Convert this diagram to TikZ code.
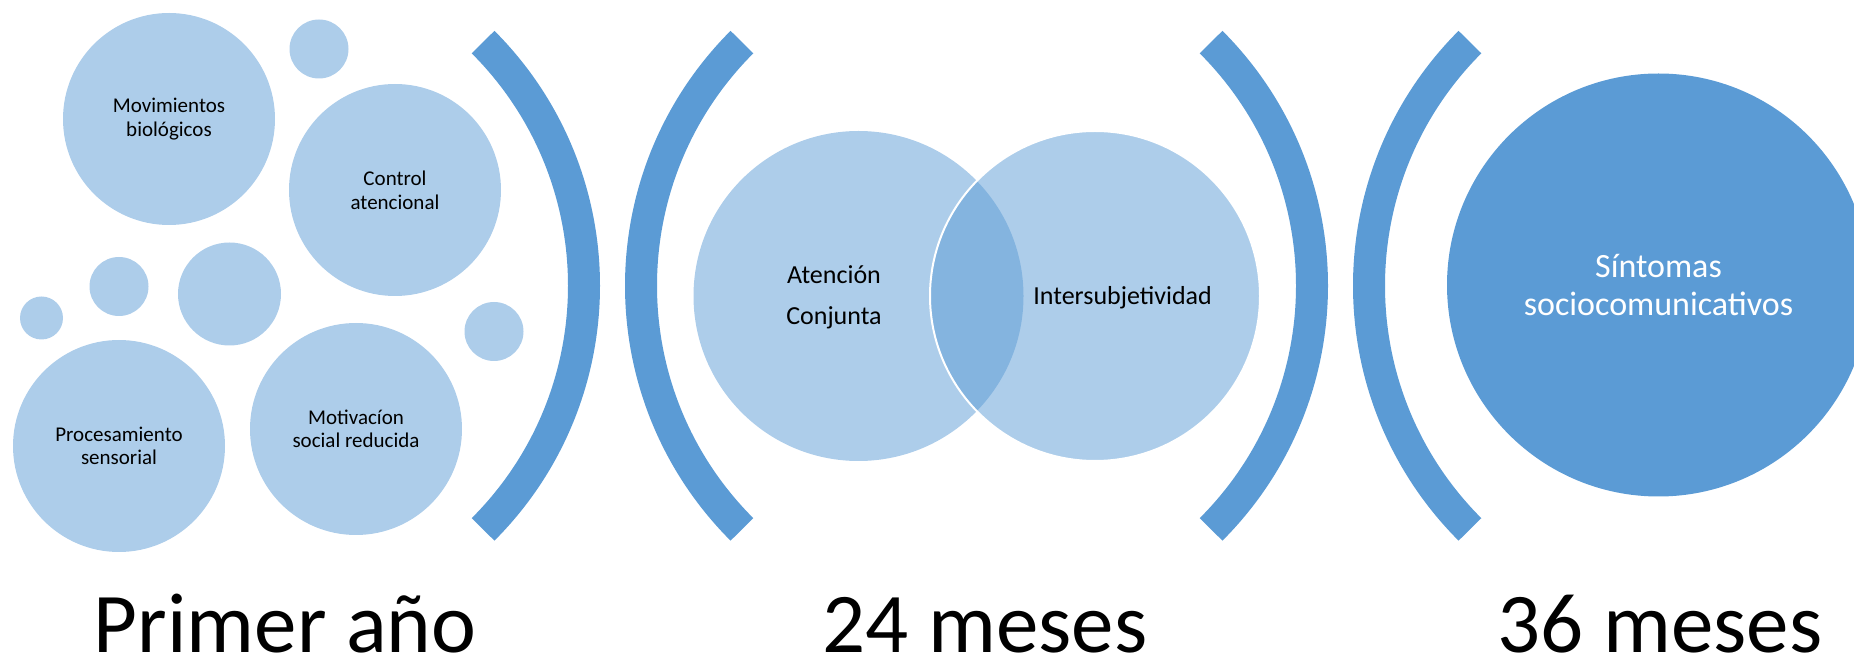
\documentclass[tikz,border=0pt]{standalone}
\usepackage{fontspec}
\setmainfont{Carlito}
\definecolor{azul}{HTML}{5B9BD5}
\begin{document}
\begin{tikzpicture}[x=0.5pt,y=0.5pt,line join=round,
    burbuja/.style={circle,fill=azul!50,inner sep=0pt,align=center,
      font=\fontsize{10.5}{11.8}\selectfont},
    grande/.style={burbuja,minimum size=106pt},
    venn/.style={circle,fill=azul,fill opacity=0.5,inner sep=0pt,minimum size=165pt},
    corchete/.style={draw=azul,line width=16pt,line cap=butt},
    etapa/.style={anchor=base,inner sep=0pt,font=\fontsize{42.5}{50}\selectfont}]
  \useasboundingbox (0,0) rectangle (1854,659);
  % primer año
  \node[grande] (mov) at (169,540) {Movimientos\\biológicos};
  \node[burbuja,minimum size=29.5pt] (b1) at (319,610) {};
  \node[grande] (ctrl) at (395,469) {Control\\atencional};
  \node[burbuja,minimum size=29.5pt] (b2) at (119,372.5) {};
  \node[burbuja,minimum size=21.5pt] (b3) at (41.5,341) {};
  \node[burbuja,minimum size=51.5pt] (b4) at (229.5,365) {};
  \node[burbuja,minimum size=29.5pt] (b5) at (494,327.5) {};
  \node[grande] (proc) at (119,213) {Procesamiento\\sensorial};
  \node[grande] (motiv) at (356,230) {Motivacíon\\social reducida};
  % corchetes
  \foreach \cx in {239.4,967.4}
    \draw[corchete] (\cx,373.25) ++(-45:344.6) arc[start angle=-45,end angle=45,radius=344.6];
  \foreach \cx in {985.6,1713.6}
    \draw[corchete] (\cx,373.25) ++(135:344.6) arc[start angle=135,end angle=225,radius=344.6];
  % 24 meses
  \node[venn] (aten) at (858.5,363) {};
  \node[venn,draw=white,line width=1pt] (inter) at (1095,363) {};
  \node[font=\fontsize{13}{20.5}\selectfont,align=center] (atentxt) at (834,361.5) {Atención\\Conjunta};
  \node[font=\fontsize{13}{16}\selectfont] (intertxt) at (1122.6,361) {Intersubjetividad};
  % 36 meses
  \node[circle,fill=azul,minimum size=211.5pt,inner sep=0pt,text=white,align=center,
    font=\fontsize{17}{18.75}\selectfont] (sint) at (1658.5,374) {Síntomas\\sociocomunicativos};
  % etapas
  \node[etapa] (t1) at (285,6) {Primer año};
  \node[etapa] (t2) at (985,6) {24 meses};
  \node[etapa] (t3) at (1660,6) {36 meses};
\end{tikzpicture}
\end{document}
